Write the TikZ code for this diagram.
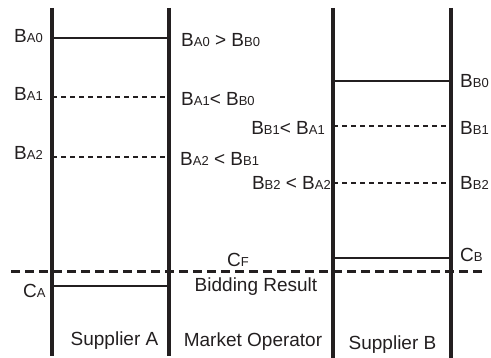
\documentclass[tikz,border=0pt]{standalone}
\usepackage{fontspec}
\setmainfont{Liberation Sans}
\definecolor{ink}{RGB}{35,31,32}
\newcommand\Bs[2]{#1{\fontsize{13}{13}\selectfont #2}}
\begin{document}
\begin{tikzpicture}[x=1pt,y=-1pt, color=ink,
  lbl/.style={inner sep=0pt, text=ink, font=\fontsize{19}{19}\selectfont},
  lw/.style={lbl, anchor=base west},
  le/.style={lbl, anchor=base east},
  axisline/.style={line width=4pt},
  solidlvl/.style={line width=1.3pt},
  dashlvl/.style={line width=1.3pt, dash pattern=on 5pt off 4pt},
  result/.style={line width=3pt, dash pattern=on 9pt off 5pt}]
\useasboundingbox (0,0) rectangle (491,358);
% axes
\coordinate (at) at (52,8);  \coordinate (ab) at (52,356);
\coordinate (mt) at (169,8); \coordinate (mb) at (169,356);
\coordinate (nt) at (333,8); \coordinate (nb) at (333,358);
\coordinate (bt) at (451,8); \coordinate (bb) at (451,358);
% level coordinates
\coordinate (a0l) at (52,38);  \coordinate (a0r) at (169,38);
\coordinate (a1l) at (52,97);  \coordinate (a1r) at (169,97);
\coordinate (a2l) at (52,157); \coordinate (a2r) at (169,157);
\coordinate (cal) at (52,286); \coordinate (car) at (169,286);
\coordinate (b0l) at (333,81);  \coordinate (b0r) at (451,81);
\coordinate (b1l) at (333,126); \coordinate (b1r) at (451,126);
\coordinate (b2l) at (333,183); \coordinate (b2r) at (451,183);
\coordinate (cbl) at (333,258); \coordinate (cbr) at (451,258);
\coordinate (rl) at (11,272); \coordinate (rr) at (484,272);

\draw[solidlvl] (a0l) -- (a0r);
\draw[dashlvl] (a1l) -- (a1r);
\draw[dashlvl] (a2l) -- (a2r);
\draw[solidlvl] (cal) -- (car);
\draw[solidlvl] (b0l) -- (b0r);
\draw[dashlvl] (b1l) -- (b1r);
\draw[dashlvl] (b2l) -- (b2r);
\draw[solidlvl] (cbl) -- (cbr);
\draw[result] (rl) -- (rr);

\draw[axisline] (at) -- (ab);
\draw[axisline] (mt) -- (mb);
\draw[axisline] (nt) -- (nb);
\draw[axisline] (bt) -- (bb);

% labels
\node[le] (la0) at (43,43) {\Bs{B}{A0}};
\node[le] (la1) at (43,101) {\Bs{B}{A1}};
\node[le] (la2) at (43,160) {\Bs{B}{A2}};
\node[lw] (ca) at (23,298) {\Bs{C}{A}};

\node[lw] (m0) at (181,47) {\Bs{B}{A0} > \Bs{B}{B0}};
\node[lw] (m1) at (181,106) {\Bs{B}{A1}< \Bs{B}{B0}};
\node[lw] (m2) at (180,166) {\Bs{B}{A2} < \Bs{B}{B1}};
\node[le] (m3) at (325,135) {\Bs{B}{B1}< \Bs{B}{A1}};
\node[le] (m4) at (331,190) {\Bs{B}{B2} < \Bs{B}{A2}};

\node[lw] (lb0) at (460,88) {\Bs{B}{B0}};
\node[lw] (lb1) at (460,135) {\Bs{B}{B1}};
\node[lw] (lb2) at (460,190) {\Bs{B}{B2}};
\node[lw] (cb) at (460,262) {\Bs{C}{B}};

\node[lw] (cf) at (227,267) {\Bs{C}{F}};
\node[lbl, anchor=base] (br) at (256,292) {Bidding Result};
\node[lbl, anchor=base] (sa) at (114.5,346) {Supplier A};
\node[lbl, anchor=base] (mo) at (253,347) {Market Operator};
\node[lbl, anchor=base] (sb) at (392.5,350) {Supplier B};
\end{tikzpicture}
\end{document}
